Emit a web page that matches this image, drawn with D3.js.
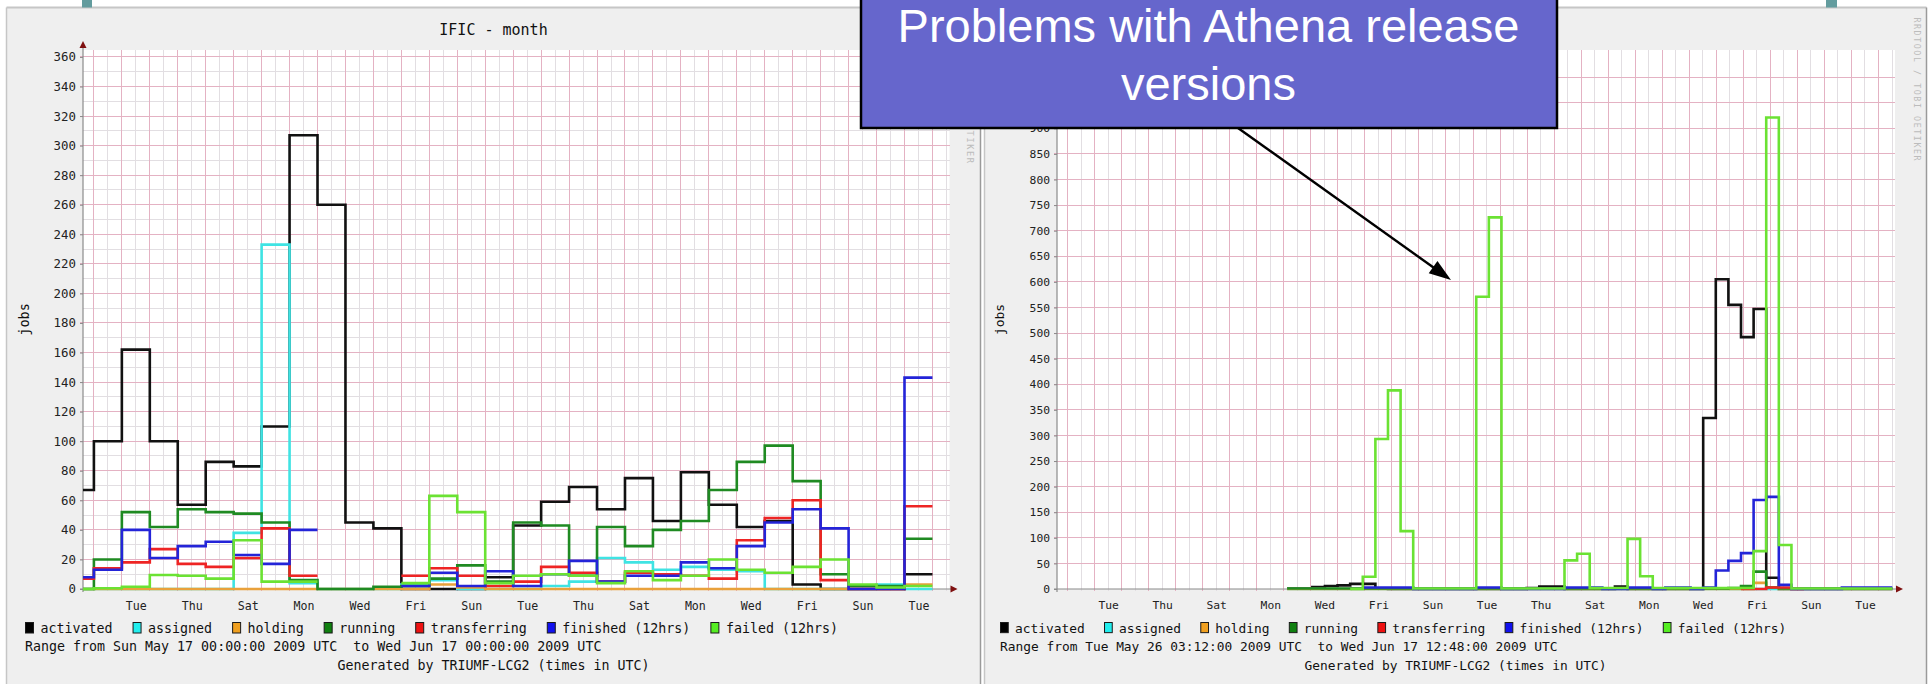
<!DOCTYPE html>
<html><head><meta charset="utf-8">
<script src="https://cdn.jsdelivr.net/npm/d3@7/dist/d3.min.js"></script>
<style>
html,body{margin:0;padding:0;background:#fff;overflow:hidden}
svg{display:block}
</style></head><body>
<svg id="chart" width="1930" height="684"></svg>
<script>
// ================= DATA =================
const seriesNames = ["activated","assigned","holding","running","transferring","finished (12hrs)","failed (12hrs)"];
const lineColors  = ["#111111","#3fe3e3","#e9a13b","#1f8a22","#ee2424","#2424d8","#6be233"];
const boxColors   = ["#000000","#22eeee","#f0a020","#108010","#ee1111","#1111ee","#55ee22"];

// x axis: one month, 31 days; day boundaries fall 0.39 day after the axis start
const axisDays = 31;
const firstMidnight = 0.39;
const dayLabels = ["Tue","Thu","Sat","Mon","Wed","Fri","Sun","Tue","Thu","Sat","Mon","Wed","Fri","Sun","Tue"];
const firstLabelDay = 1;   // label i sits on day (firstLabelDay + 2*i) after firstMidnight, at noon

// ---- left panel: IFIC - month (daily bins) ----
const leftTitle = "IFIC - month";
const leftYMax = 364.7;
const leftYTicks = [0,20,40,60,80,100,120,140,160,180,200,220,240,260,280,300,320,340,360];
const leftYMinor = [10,30,50,70,90,110,130,150,170,190,210,230,250,270,290,310,330,350];
const leftRange = "Range from Sun May 17 00:00:00 2009 UTC  to Wed Jun 17 00:00:00 2009 UTC";
const leftGenerated = "Generated by TRIUMF-LCG2 (times in UTC)";
const leftActivated    = [67,100,162,100,57,86,83,110,307,260,45,41,0,0,0,8,43,59,69,54,75,46,79,57,42,46,3,0,0,0,10];
const leftAssigned     = [0,0,0,0,0,0,38,233,4,0,0,0,3,6,0,0,0,2,5,21,18,13,15,13,12,0,0,0,0,3,0];
const leftHolding      = [0,0,0,0,0,0,0,0,0,0,0,0,0,3,1,0,0,0,0,0,0,0,0,0,0,0,0,0,0,0,3];
const leftRunning      = [0,20,52,42,54,52,51,45,6,0,0,1.5,2,7,16,5,45,43,9,42,29,40,46,67,86,97,73,10,2,2,34];
const leftTransferring = [7,14,18,27,17,15,21,41,9,null,null,null,9,14,9,2,5,15,11,5,11,10,9,7,33,48,60,6,0,0,56];
const leftFinished     = [8,13,40,21,29,32,23,17,40,null,null,null,2,11,2,12,2,10,19,5,9,9,18,14,29,45,54,41,0,0,143];
const leftFailed       = [0,0.5,1.5,9.5,9,7,33,5,5,null,null,null,4,63,52,4,9,10,9,4,12,6,9,20,13,11,15,20,3,1,2];

// ---- right panel (bins of ~11.2 h, starting 8.513 days after axis start) ----
const rightYMax = 1053;
const rightYTicks = [0,50,100,150,200,250,300,350,400,450,500,550,600,650,700,750,800,850,900,950,1000];
const rightYMinor = [];
const rightRange = "Range from Tue May 26 03:12:00 2009 UTC  to Wed Jun 17 12:48:00 2009 UTC";
const rightGenerated = "Generated by TRIUMF-LCG2 (times in UTC)";
const rightBinStart = 8.513;
const rightBinWidth = 0.4664;
const rightActivated    = [1,1,4,6,7,10,10,1,0,0, 0,0,0,0,0,0,0,0,0,2, 5,5,0,0,0,0,5,0,0,0, 0,0,0,334,605,555,492,547,22,0, 0,0,0,0,0,0,0,0];
const rightAssigned     = [0,0,0,0,0,0,0,0,0,0, 0,0,0,0,0,0,0,0,0,0, 0,0,0,0,0,0,0,0,0,0, 0,0,0,0,0,0,0,0,0,0, 0,0,0,0,0,0,0,0];
const rightHolding      = [0,0,0,0,0,0,0,0,0,0, 0,0,0,0,0,0,0,0,0,0, 0,0,0,0,0,0,0,0,0,0, 0,0,0,0,0,0,0,12,3,0, 0,0,0,0,0,0,0,0];
const rightRunning      = [1,1,1,1,1,1,1,1,1,1, 1,1,1,1,1,1,1,1,1,1, 1,1,1,1,1,1,1,1,1,1, 1,1,1,1,1,2,6,34,3,1, 1,1,1,1,1,1,1,1];
const rightTransferring = [null,null,null,null,null,null,null,null,null,null, null,null,null,null,null,null,null,null,null,null, null,null,null,null,null,null,null,null,null,null, null,null,null,null,null,null,0,0,3,3, 0,null,null,null,null,null,null,null];
const rightFinished     = [null,null,null,null,null,null,3,3,3,3, 0,0,0,0,0,3,3,0,0,0, 0,0,3,3,3,0,0,3,3,0, 3,3,0,3,36,55,70,174,180,8, 0,0,0,0,3,3,3,3];
const rightFailed       = [null,null,null,null,null,0,24,293,388,113, 1,1,1,1,1,571,726,1,1,1, 1,1,56,69,2,2,2,98,25,2, 2,2,2,2,2,2,2,74,921,86, 1,1,1,1,1,1,1,1];

const annotationLines = ["Problems with Athena release","versions"];
const watermark = "RRDTOOL / TOBI OETIKER";

// ================= DRAW =================
const W = 1930, H = 684;
const MONO = "DejaVu Sans Mono, monospace";
const svg = d3.select("#chart");
svg.append("rect").attr("width",W).attr("height",H).attr("fill","#ffffff");
const defs = svg.append("defs");
defs.append("clipPath").attr("id","wmclip").append("rect").attr("x",940).attr("y",129).attr("width",40).attr("height",60);

const leftEdges = [0].concat(d3.range(0, 31).map(k => firstMidnight + k));
const rightEdges = d3.range(0, 49).map(j => rightBinStart + j*rightBinWidth);

const panels = [
  {px0:6.5, px1:980.5, py0:7.5, x0:83, x1:949.5, yTop:50, yBot:589, s:1, legendX:25, centerX:493.5,
   yTitleX:24, wmX:970, wmClip:true, yFs:12.4, xFs:11.6, yMax:leftYMax, yTicks:leftYTicks, yMinor:leftYMinor, title:leftTitle,
   range:leftRange, generated:leftGenerated, edges:leftEdges,
   series:[leftActivated,leftAssigned,leftHolding,leftRunning,leftTransferring,leftFinished,leftFailed]},
  {px0:984.5, px1:1926.5, py0:7.5, x0:1057, x1:1895, yTop:50, yBot:589, s:0.967, legendX:1000, centerX:1455.5,
   yTitleX:999, wmX:1917, wmClip:false, yFs:11.3, xFs:11.3, yMax:rightYMax, yTicks:rightYTicks, yMinor:rightYMinor, title:null,
   range:rightRange, generated:rightGenerated, edges:rightEdges,
   series:[rightActivated,rightAssigned,rightHolding,rightRunning,rightTransferring,rightFinished,rightFailed]}
];

const MAJOR = "#e4b2c3", MINOR = "#e2dee2", AXIS = "#8a8a8a", ARROW = "#7f1010";

panels.forEach(cfg => {
  const s = cfg.s;
  const g = svg.append("g").attr("font-family", MONO);
  g.append("rect").attr("x",cfg.px0).attr("y",cfg.py0).attr("width",cfg.px1-cfg.px0).attr("height",H)
    .attr("fill","#efefef");
  g.append("line").attr("x1",cfg.px0).attr("x2",cfg.px1).attr("y1",cfg.py0).attr("y2",cfg.py0)
    .attr("stroke","#c6c6c6").attr("stroke-width",2);
  g.append("line").attr("x1",cfg.px0).attr("x2",cfg.px0).attr("y1",cfg.py0).attr("y2",H)
    .attr("stroke","#c6c6c6").attr("stroke-width",1.5);
  g.append("line").attr("x1",cfg.px1).attr("x2",cfg.px1).attr("y1",cfg.py0).attr("y2",H)
    .attr("stroke","#9a9a9a").attr("stroke-width",1.5);

  const x = d3.scaleLinear().domain([0, axisDays]).range([cfg.x0, cfg.x1]);
  const y = d3.scaleLinear().domain([0, cfg.yMax]).range([cfg.yBot, cfg.yTop]);

  g.append("rect").attr("x",cfg.x0).attr("y",cfg.yTop).attr("width",cfg.x1-cfg.x0).attr("height",cfg.yBot-cfg.yTop)
    .attr("fill","#ffffff");

  // grid
  const grid = g.append("g").attr("shape-rendering","crispEdges");
  cfg.yMinor.forEach(v => grid.append("line").attr("x1",cfg.x0).attr("x2",cfg.x1)
    .attr("y1",y(v)).attr("y2",y(v)).attr("stroke",MINOR));
  d3.range(firstMidnight, axisDays, 0.5).forEach((t,i) => grid.append("line")
    .attr("x1",x(t)).attr("x2",x(t)).attr("y1",cfg.yTop).attr("y2",cfg.yBot+2)
    .attr("stroke", i%2===0 ? MAJOR : MINOR));
  cfg.yTicks.filter(v => v>0).forEach(v => grid.append("line").attr("x1",cfg.x0-3).attr("x2",cfg.x1)
    .attr("y1",y(v)).attr("y2",y(v)).attr("stroke",MAJOR));

  // axis lines
  g.append("line").attr("x1",cfg.x0-3).attr("x2",cfg.x1+2).attr("y1",cfg.yBot).attr("y2",cfg.yBot)
    .attr("stroke",AXIS).attr("stroke-width",1.2);
  g.append("line").attr("x1",cfg.x0).attr("x2",cfg.x0).attr("y1",cfg.yBot+3).attr("y2",cfg.yTop-3)
    .attr("stroke",AXIS).attr("stroke-width",1.2);

  // axis labels via d3 axes
  const yAxis = d3.axisLeft(y).tickValues(cfg.yTicks).tickSize(3).tickPadding(4).tickFormat(d3.format("d"));
  const ya = g.append("g").attr("transform",`translate(${cfg.x0},0)`).call(yAxis);
  ya.attr("font-family", MONO);
  ya.select(".domain").remove();
  ya.selectAll(".tick line").attr("stroke",AXIS);
  ya.selectAll("text").attr("font-size",cfg.yFs).attr("fill","#222");

  const labelTimes = dayLabels.map((d,i) => firstMidnight + firstLabelDay + 2*i + 0.5);
  const xAxis = d3.axisBottom(x).tickValues(labelTimes).tickSize(0).tickPadding(12.8*s)
    .tickFormat((d,i) => dayLabels[i]);
  const xa = g.append("g").attr("transform",`translate(0,${cfg.yBot})`).call(xAxis);
  xa.attr("font-family", MONO);
  xa.select(".domain").remove();
  xa.selectAll("text").attr("font-size",cfg.xFs).attr("fill","#222");

  // series (step lines)
  const line = d3.line().defined(d => d !== null).x(d => x(d[0])).y(d => y(d[1]));
  cfg.series.forEach((vals, si) => {
    const pts = [];
    vals.forEach((v,i) => {
      if (v === null) { pts.push(null); return; }
      pts.push([cfg.edges[i], v], [cfg.edges[i+1], v]);
    });
    g.append("path").attr("d", line(pts)).attr("fill","none")
      .attr("stroke", lineColors[si]).attr("stroke-width", 2.6).attr("stroke-linejoin","miter");
  });

  // arrows
  g.append("path").attr("d",`M${cfg.x1+1},${cfg.yBot-3.5}L${cfg.x1+8},${cfg.yBot}L${cfg.x1+1},${cfg.yBot+3.5}Z`).attr("fill",ARROW);
  g.append("path").attr("d",`M${cfg.x0-3.5},${cfg.yTop-2}L${cfg.x0},${cfg.yTop-9}L${cfg.x0+3.5},${cfg.yTop-2}Z`).attr("fill",ARROW);

  // title
  if (cfg.title) g.append("text").attr("x",cfg.centerX).attr("y",35).attr("text-anchor","middle")
    .attr("font-size",15).attr("fill","#111").text(cfg.title);

  // y title
  g.append("text").attr("transform",`translate(${cfg.yTitleX},319.5) rotate(-90)`).attr("text-anchor","middle")
    .attr("dominant-baseline","central").attr("font-size",13.5*s).attr("fill","#111").text("jobs");

  // watermark
  const wm = g.append("text").attr("transform",`translate(${cfg.wmX},89) rotate(90)`).attr("text-anchor","middle")
    .attr("dominant-baseline","central").attr("font-size",8.6*s).attr("fill","#bcbcbc")
    .attr("textLength",148*s).attr("lengthAdjust","spacing").text(watermark);
  if (cfg.wmClip) {
    g.append("g").attr("clip-path","url(#wmclip)").node().appendChild(wm.node());
  }

  // legend
  let lx = cfg.legendX;
  const fs = 13.3*s;
  seriesNames.forEach((name,i) => {
    g.append("rect").attr("x",lx+0.5).attr("y",622.5).attr("width",8*s).attr("height",10.5*s)
      .attr("fill",boxColors[i]).attr("stroke","#1a1a1a").attr("stroke-width",1);
    const t = g.append("text").attr("x",lx+15.5*s).attr("y",632.5).attr("font-size",fs).attr("fill","#111").text(name);
    lx = lx + 15.5*s + t.node().getComputedTextLength() + 20*s;
  });
  g.append("text").attr("x",cfg.legendX).attr("y",650.7).attr("font-size",fs).attr("fill","#111")
    .style("white-space","pre").text(cfg.range);
  g.append("text").attr("x",cfg.centerX).attr("y",669.5).attr("text-anchor","middle").attr("font-size",fs)
    .attr("fill","#111").style("white-space","pre").text(cfg.generated);
});

// slide decorations at top
svg.append("rect").attr("x",82).attr("y",0).attr("width",10).attr("height",7.5).attr("fill","#639c9e");
svg.append("rect").attr("x",1826).attr("y",0).attr("width",11).attr("height",7.5).attr("fill","#639c9e");

// annotation box + arrow
const ann = svg.append("g");
ann.append("line").attr("x1",1238).attr("y1",128).attr("x2",1437).attr("y2",270)
  .attr("stroke","#000").attr("stroke-width",2.4);
(function(){
  const tx=1451, ty=280, ang=Math.atan2(280-128,1451-1238), L=22, Wd=7.5;
  const bx=tx-L*Math.cos(ang), by=ty-L*Math.sin(ang);
  const px=-Math.sin(ang)*Wd, py=Math.cos(ang)*Wd;
  ann.append("path").attr("d",`M${tx},${ty}L${bx+px},${by+py}L${bx-px},${by-py}Z`).attr("fill","#000");
})();
ann.append("rect").attr("x",861).attr("y",-6).attr("width",696).attr("height",134)
  .attr("fill","#6666cc").attr("stroke","#000").attr("stroke-width",2.5);
annotationLines.forEach((t,i) => ann.append("text").attr("x",1208.5).attr("y",42+i*57.5)
  .attr("text-anchor","middle").attr("font-family","Liberation Sans, Arial, sans-serif")
  .attr("font-size",47).attr("fill","#ffffff").text(t));
</script></body></html>
